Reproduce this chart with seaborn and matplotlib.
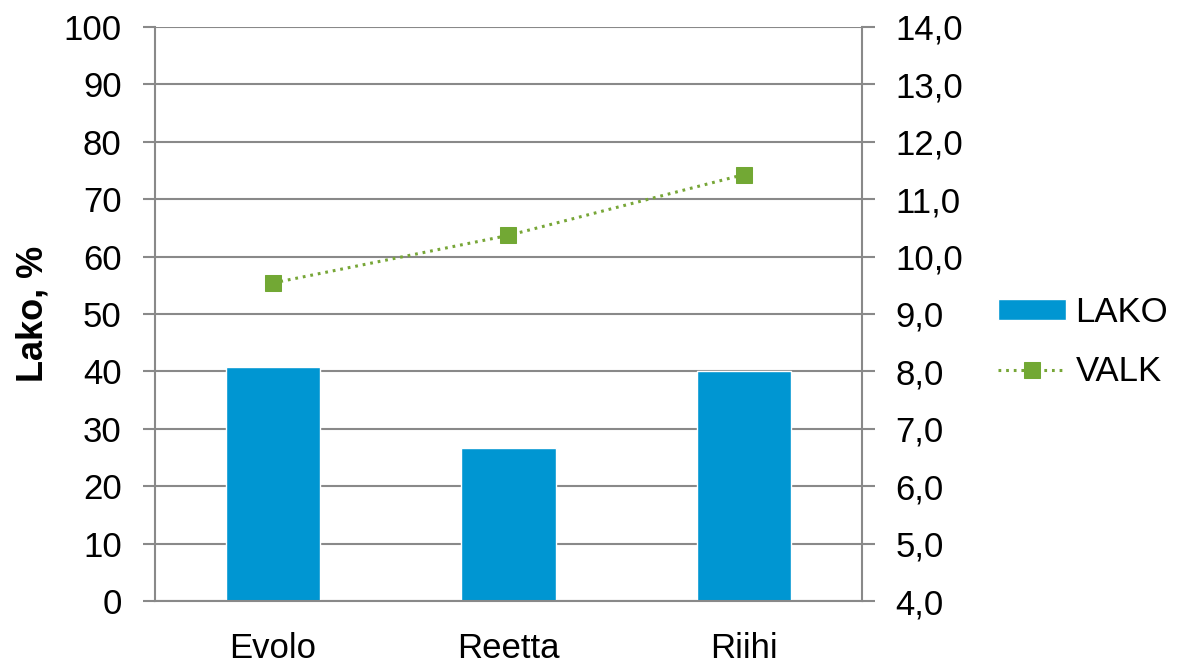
import numpy as np
import pandas as pd
import seaborn as sns
import matplotlib.pyplot as plt
from matplotlib.ticker import FuncFormatter

# data
categories = ['Evolo', 'Reetta', 'Riihi']
lako = [40.7, 26.7, 40.0]
valk = [9.54, 10.37, 11.43]

bar_color = '#0096D2'
line_color = '#77A637'
grid_color = '#898989'

sns.set_style('white')
plt.rcParams['font.family'] = ['Liberation Sans', 'DejaVu Sans']
plt.rcParams['text.color'] = 'black'
plt.rcParams['axes.labelcolor'] = 'black'

fig = plt.figure(figsize=(11.78, 6.63), dpi=100)
ax = fig.add_axes([0.1316, 0.0935, 0.6001, 0.8658])

df = pd.DataFrame({'lajike': categories, 'LAKO': lako, 'VALK': valk})

sns.barplot(data=df, x='lajike', y='LAKO', color=bar_color, width=0.4,
            saturation=1, ax=ax, label='LAKO')
if ax.get_legend() is not None:
    ax.get_legend().remove()
ax.set_ylim(0, 100)
ax.set_yticks(np.arange(0, 101, 10))
ax.set_xlim(-0.5, 2.5)
ax.set_xlabel('')
ax.set_ylabel('Lako, %', fontsize=26, fontweight='bold', labelpad=9.5)
ax.yaxis.grid(True, color=grid_color, linewidth=1.5)
ax.set_axisbelow(True)
ax.tick_params(axis='y', length=9, width=1.5, color=grid_color, labelcolor='black',
               labelsize=25, pad=15, left=True)
ax.tick_params(axis='x', length=0, labelsize=25, labelcolor='black', pad=22)
for side in ['left', 'bottom']:
    ax.spines[side].set_color(grid_color)
    ax.spines[side].set_linewidth(1.5)
ax.spines['top'].set_visible(False)
ax.spines['right'].set_visible(False)

ax2 = ax.twinx()
sns.lineplot(x=[0, 1, 2], y=valk, ax=ax2, color=line_color, linestyle=(0, (0.9, 1.6)),
             linewidth=2.2, marker='s', markersize=11, markerfacecolor='#72A834',
             markeredgecolor='#72A834', label='VALK', legend=False)
ax2.set_ylim(4, 14)
ax2.set_yticks(np.arange(4, 14.01, 1))
ax2.yaxis.set_major_formatter(FuncFormatter(lambda v, p: f'{v:.1f}'.replace('.', ',')))
ax2.tick_params(axis='y', length=9, width=1.5, color=grid_color, labelcolor='black',
                labelsize=25, pad=15, right=True)
ax2.set_xlim(-0.5, 2.5)
for side in ['top', 'left', 'bottom']:
    ax2.spines[side].set_visible(False)
ax2.spines['right'].set_color(grid_color)
ax2.spines['right'].set_linewidth(1.5)

h1, l1 = ax.get_legend_handles_labels()
h2, l2 = ax2.get_legend_handles_labels()
fig.legend(h1 + h2, l1 + l2, loc='center left', bbox_to_anchor=(998 / 1178, 0.484),
           frameon=False, fontsize=25, handlelength=1.97, handleheight=0.55,
           handletextpad=0.26, labelspacing=0.75, borderpad=0, borderaxespad=0)

plt.savefig('out.png', dpi=100)
